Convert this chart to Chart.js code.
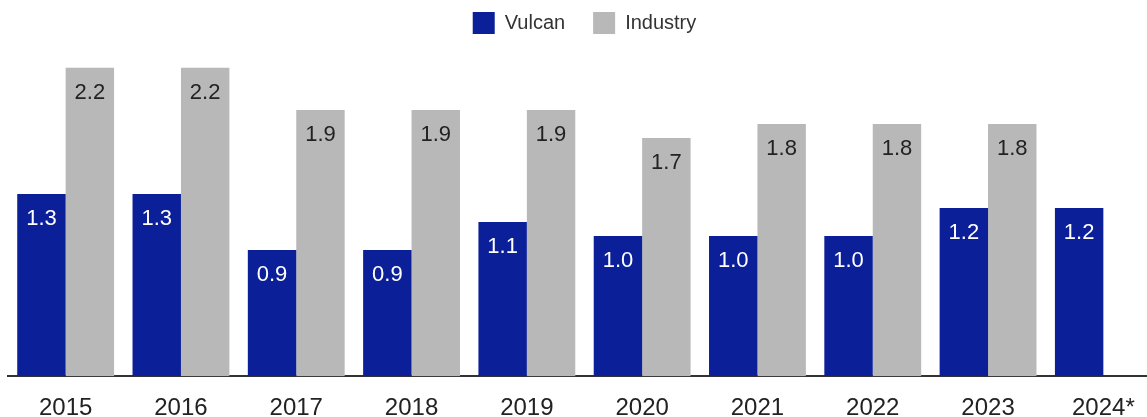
<!DOCTYPE html>
<html>
<head>
<meta charset="utf-8">
<script src="https://cdn.jsdelivr.net/npm/chart.js@4"></script>
<style>
  html, body { margin: 0; padding: 0; background: #fff; overflow: hidden; }
  /* canvas is a bit larger than the window; the extra edge is cut off like in the original */
  #wrap { width: 1147px; height: 417px; overflow: hidden; }
</style>
</head>
<body>
<div id="wrap"><canvas id="chart" width="1162" height="441"></canvas></div>
<script>
// chart data
const years = ['2015', '2016', '2017', '2018', '2019', '2020', '2021', '2022', '2023', '2024*'];
const vulcanRates = [1.3, 1.3, 0.9, 0.9, 1.1, 1.0, 1.0, 1.0, 1.2, 1.2];
const industryRates = [2.2, 2.2, 1.9, 1.9, 1.9, 1.7, 1.8, 1.8, 1.8, null];

const fontFamily = '"Liberation Sans", Arial, sans-serif';

// draws the value inside each bar, near its top
const barValueLabels = {
    id: 'barValueLabels',
    afterDatasetsDraw(chart) {
        const ctx = chart.ctx;
        ctx.save();
        ctx.font = '22px ' + fontFamily;
        ctx.textAlign = 'center';
        ctx.textBaseline = 'middle';
        chart.data.datasets.forEach((ds, i) => {
            const meta = chart.getDatasetMeta(i);
            meta.data.forEach((bar, j) => {
                const v = ds.data[j];
                if (v === null || v === undefined) return;
                ctx.fillStyle = ds.labelColor;
                ctx.fillText(v.toFixed(1), bar.x, bar.y + 25);
            });
        });
        ctx.restore();
    }
};

const ctx = document.getElementById('chart').getContext('2d');
new Chart(ctx, {
    type: 'bar',
    data: {
        labels: years,
        datasets: [{
            label: 'Vulcan',
            data: vulcanRates,
            backgroundColor: '#0b1f98',
            labelColor: '#ffffff',
            categoryPercentage: 0.84,
            barPercentage: 1
        }, {
            label: 'Industry',
            data: industryRates,
            backgroundColor: '#b8b8b8',
            labelColor: '#222222',
            categoryPercentage: 0.84,
            barPercentage: 1
        }]
    },
    options: {
        responsive: false,
        animation: false,
        layout: { padding: { left: 8, right: 1, top: -16, bottom: 0 } },
        plugins: {
            tooltip: { enabled: false },
            legend: {
                position: 'top',
                labels: {
                    boxWidth: 22,
                    boxHeight: 22,
                    padding: 28,
                    color: '#333',
                    font: { family: fontFamily, size: 20 }
                }
            }
        },
        scales: {
            x: {
                grid: { display: false, drawTicks: false },
                border: { display: true, color: '#333', width: 2 },
                ticks: {
                    color: '#222',
                    padding: 18,
                    font: { family: fontFamily, size: 24 }
                }
            },
            y: {
                display: false,
                beginAtZero: true,
                min: 0,
                max: 2.37
            }
        }
    },
    plugins: [barValueLabels]
});
</script>
</body>
</html>
